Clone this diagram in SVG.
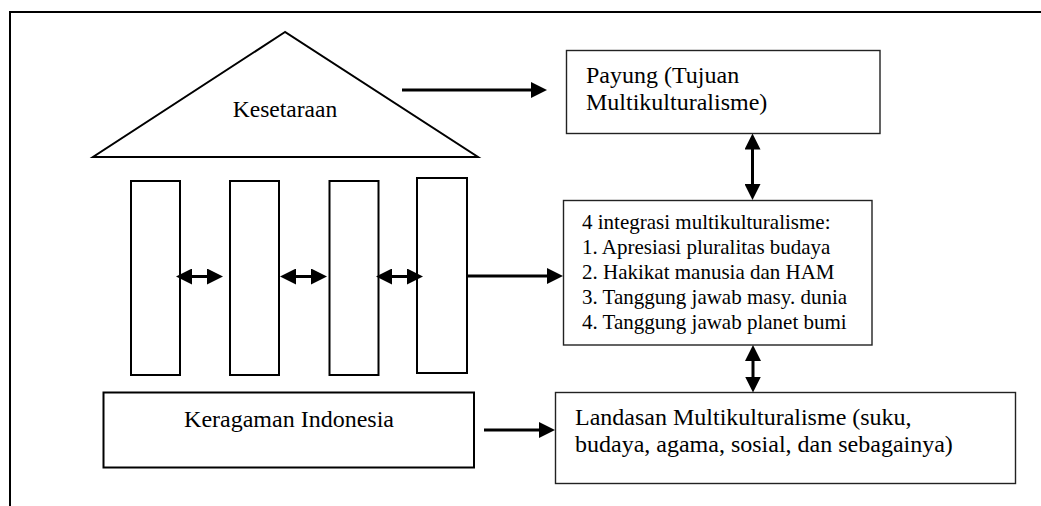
<svg xmlns="http://www.w3.org/2000/svg" width="1041" height="506" viewBox="0 0 1041 506">
<style>
.frame{fill:none;stroke:#000;stroke-width:2}
.shape{fill:#fff;stroke:#000;stroke-width:2}
.box{fill:#fff;stroke:#222;stroke-width:1.4}
.t{font-family:"Liberation Serif","Times New Roman",serif;font-size:24px;fill:#000}
.ts{font-family:"Liberation Serif","Times New Roman",serif;font-size:21px;fill:#000}
.c{text-anchor:middle}
.arr{fill:none;stroke:#000;stroke-width:3}
</style>
<defs>
<marker id="ah" viewBox="0 0 16 16" markerWidth="16" markerHeight="16" refX="8" refY="8" orient="auto-start-reverse" markerUnits="userSpaceOnUse">
<path d="M0,0 L16,8 L0,16 z" fill="#000"/>
</marker>
</defs>
<rect width="1041" height="506" fill="#fff"/>
<path class="frame" d="M10,506 V12 H1041"/>
<g id="roof">
<polygon class="shape" points="285,32 93,157 478,157"/>
<text class="t c" x="285" y="117" style="font-size:23.5px">Kesetaraan</text>
</g>
<g id="pillar1"><rect class="shape" x="131" y="181" width="49" height="194"/></g>
<g id="pillar2"><rect class="shape" x="230" y="181" width="49" height="194"/></g>
<g id="pillar3"><rect class="shape" x="329.5" y="181" width="49" height="194"/></g>
<g id="pillar4"><rect class="shape" x="417" y="178" width="50" height="195"/></g>
<g id="keragaman">
<rect class="shape" x="103.5" y="392.5" width="370.5" height="75"/>
<text class="t c" x="289" y="427">Keragaman Indonesia</text>
</g>
<g id="payung">
<rect class="box" x="566.5" y="50.5" width="313.5" height="83"/>
<text class="t" x="586" y="83">Payung (Tujuan</text>
<text class="t" x="586" y="110">Multikulturalisme)</text>
</g>
<g id="integrasi">
<rect class="box" x="563.5" y="200.5" width="308.5" height="144.5"/>
<text class="ts" x="582" y="229">4 integrasi multikulturalisme:</text>
<text class="ts" x="582" y="254">1. Apresiasi pluralitas budaya</text>
<text class="ts" x="582" y="279">2. Hakikat manusia dan HAM</text>
<text class="ts" x="582" y="304">3. Tanggung jawab masy. dunia</text>
<text class="ts" x="582" y="329">4. Tanggung jawab planet bumi</text>
</g>
<g id="landasan">
<rect class="box" x="555.5" y="392.5" width="460" height="91"/>
<text class="t" x="575" y="425">Landasan Multikulturalisme (suku,</text>
<text class="t" x="575" y="452">budaya, agama, sosial, dan sebagainya)</text>
</g>
<g id="connectors">
<line class="arr" x1="402" y1="90" x2="539" y2="90" marker-end="url(#ah)"/>
<line class="arr" x1="752.5" y1="141.5" x2="752.5" y2="192" marker-start="url(#ah)" marker-end="url(#ah)"/>
<line class="arr" x1="753" y1="353" x2="753" y2="384.5" marker-start="url(#ah)" marker-end="url(#ah)"/>
<line class="arr" x1="184" y1="276.5" x2="215" y2="276.5" marker-start="url(#ah)" marker-end="url(#ah)"/>
<line class="arr" x1="288" y1="276.5" x2="319" y2="276.5" marker-start="url(#ah)" marker-end="url(#ah)"/>
<line class="arr" x1="384" y1="276.5" x2="415" y2="276.5" marker-start="url(#ah)" marker-end="url(#ah)"/>
<line class="arr" x1="467" y1="276" x2="555" y2="276" marker-end="url(#ah)"/>
<line class="arr" x1="484" y1="430" x2="547" y2="430" marker-end="url(#ah)"/>
</g>
</svg>
